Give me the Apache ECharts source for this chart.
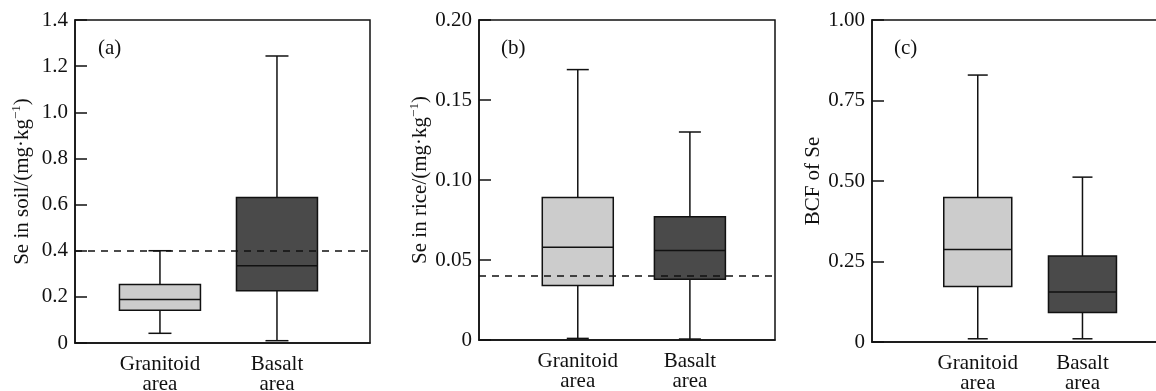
<!DOCTYPE html>
<html>
<head>
<meta charset="utf-8">
<script src="https://cdn.jsdelivr.net/npm/echarts@6/dist/echarts.min.js"></script>
<style>
  html, body { margin: 0; padding: 0; background: #fff; }
  #chart { width: 1156px; height: 391px; }
</style>
</head>
<body>
<div id="chart"></div>
<script>
// ---- data (min, Q1, median, Q3, max) ----
const categories = ['Granitoid\narea', 'Basalt\narea'];

const soilGranitoid = [0.042, 0.142, 0.189, 0.254, 0.400];
const soilBasalt    = [0.010, 0.227, 0.335, 0.631, 1.244];
const soilLimit = 0.4;

const riceGranitoid = [0.001, 0.034, 0.058, 0.089, 0.169];
const riceBasalt    = [0.0006, 0.038, 0.056, 0.077, 0.130];
const riceLimit = 0.04;

const bcfGranitoid = [0.010, 0.172, 0.287, 0.449, 0.829];
const bcfBasalt    = [0.010, 0.092, 0.155, 0.267, 0.512];

const soilTicks = ['0', '0.2', '0.4', '0.6', '0.8', '1.0', '1.2', '1.4'];
const riceTicks = ['0', '0.05', '0.10', '0.15', '0.20'];
const bcfTicks  = ['0', '0.25', '0.50', '0.75', '1.00'];

// ---- styling ----
const FONT = 'Liberation Serif';
const INK = '#111';
const fills = ['#cccccc', '#4a4a4a'];

function makeRender(boxW, capW) {
  return function (params, api) {
    const x = api.value(0);
    const lo = api.coord([x, api.value(1)]);
    const q1 = api.coord([x, api.value(2)]);
    const md = api.coord([x, api.value(3)]);
    const q3 = api.coord([x, api.value(4)]);
    const hi = api.coord([x, api.value(5)]);
    const cx = lo[0];
    const ls = { stroke: INK, lineWidth: 1.5 };
    return {
      type: 'group',
      children: [
        { type: 'line', shape: { x1: cx, y1: hi[1], x2: cx, y2: q3[1] }, style: ls },
        { type: 'line', shape: { x1: cx, y1: q1[1], x2: cx, y2: lo[1] }, style: ls },
        { type: 'line', shape: { x1: cx - capW / 2, y1: hi[1], x2: cx + capW / 2, y2: hi[1] }, style: ls },
        { type: 'line', shape: { x1: cx - capW / 2, y1: lo[1], x2: cx + capW / 2, y2: lo[1] }, style: ls },
        { type: 'rect', shape: { x: cx - boxW / 2, y: q3[1], width: boxW, height: q1[1] - q3[1] },
          style: { fill: fills[params.dataIndex], stroke: INK, lineWidth: 1.5 } },
        { type: 'line', shape: { x1: cx - boxW / 2, y1: md[1], x2: cx + boxW / 2, y2: md[1] }, style: ls }
      ]
    };
  };
}

const grids = [
  { left: 75,  top: 20, width: 295, height: 323 },
  { left: 479, top: 20, width: 296, height: 320 },
  { left: 872, top: 20, width: 300, height: 322 }
];
grids.forEach(g => {
  g.show = true; g.borderColor = INK; g.borderWidth = 1.5; g.backgroundColor = 'transparent';
  g.containLabel = false; g.outerBoundsMode = 'none';
});

const xRanges = [[-0.726, 1.795], [-0.881, 1.759], [-1.01, 1.855]];

const xAxes = xRanges.map((r, i) => ({
  type: 'value', gridIndex: i, min: r[0], max: r[1],
  axisLine: { show: true, onZero: false, lineStyle: { color: INK, width: 1.5 } },
  axisTick: { show: false },
  splitLine: { show: false },
  axisLabel: {
    customValues: [0, 1],
    formatter: v => categories[Math.round(v)],
    fontFamily: FONT, fontSize: 21, color: INK, lineHeight: 20, margin: 11
  }
}));

function yAxis(i, max, interval, ticks, name, gap) {
  return {
    type: 'value', gridIndex: i, min: 0, max: max, interval: interval,
    axisLine: { show: true, onZero: false, lineStyle: { color: INK, width: 1.5 } },
    axisTick: { show: true, inside: true, length: 12, lineStyle: { color: INK, width: 1.5 } },
    splitLine: { show: false },
    axisLabel: {
      formatter: (v) => ticks[Math.round(v / interval)],
      fontFamily: FONT, fontSize: 21, color: INK, margin: 7
    },
    name: name, nameLocation: 'middle', nameGap: gap,
    nameTextStyle: {
      fontFamily: FONT, fontSize: 21, color: INK,
      rich: {
        a: { fontFamily: FONT, fontSize: 21, color: INK },
        s: { fontFamily: FONT, fontSize: 13, color: INK, padding: [0, 0, 12, 0] }
      }
    }
  };
}

const yAxes = [
  yAxis(0, 1.4, 0.2, soilTicks, '{a|Se in soil/(mg·kg}{s|−1}{a|)}', 40),
  yAxis(1, 0.2, 0.05, riceTicks, '{a|Se in rice/(mg·kg}{s|−1}{a|)}', 46),
  yAxis(2, 1.0, 0.25, bcfTicks, 'BCF of Se', 46)
];

const boxSizes = [[81, 23], [71, 22], [68, 20]];
const panels = [
  [soilGranitoid, soilBasalt],
  [riceGranitoid, riceBasalt],
  [bcfGranitoid, bcfBasalt]
];

const series = panels.map((p, i) => ({
  type: 'custom', xAxisIndex: i, yAxisIndex: i,
  renderItem: makeRender(boxSizes[i][0], boxSizes[i][1]),
  encode: { x: 0, y: [1, 2, 3, 4, 5] },
  data: p.map((vals, k) => [k].concat(vals)),
  silent: true, clip: false, z: 2
}));

function limitLine(i, value) {
  return {
    type: 'line', xAxisIndex: i, yAxisIndex: i, data: [], silent: true, z: 3,
    markLine: {
      silent: true, symbol: ['none', 'none'], animation: false,
      label: { show: false },
      lineStyle: { color: INK, width: 1.5, type: [7, 6] },
      data: [{ yAxis: value }]
    }
  };
}
series.push(limitLine(0, soilLimit));
series.push(limitLine(1, riceLimit));

const labels = [['(a)', 98], ['(b)', 501], ['(c)', 894]];

const chart = echarts.init(document.getElementById('chart'), null, { renderer: 'canvas' });
chart.setOption({
  animation: false,
  backgroundColor: '#fff',
  grid: grids,
  xAxis: xAxes,
  yAxis: yAxes,
  series: series,
  graphic: labels.map(l => ({
    type: 'text', left: l[1], top: 38, silent: true,
    style: { text: l[0], fontFamily: FONT, fontSize: 21, fill: INK }
  }))
});
</script>
</body>
</html>
